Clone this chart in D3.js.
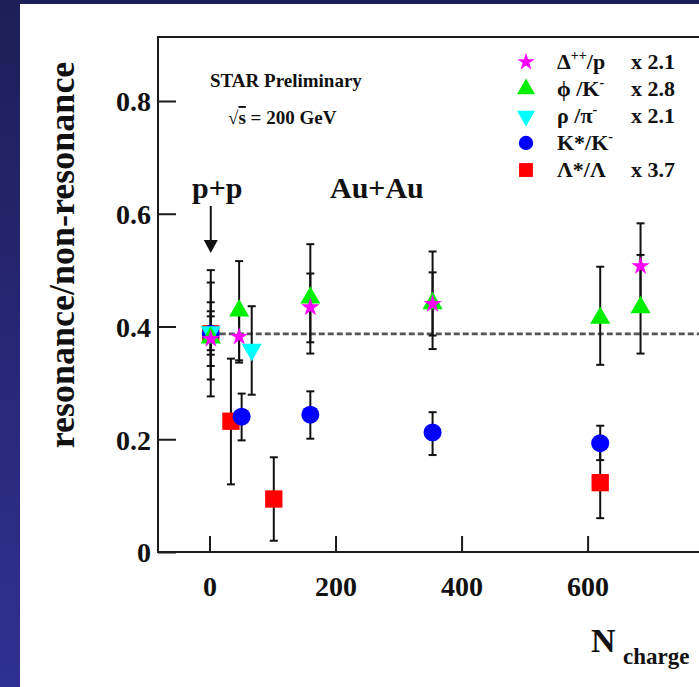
<!DOCTYPE html>
<html><head><meta charset="utf-8">
<script src="https://cdn.jsdelivr.net/npm/d3@7"></script>
<style>body{margin:0;background:#1e1e58;}svg{display:block;}text{font-family:"Liberation Serif","Times New Roman",serif;font-weight:bold;fill:#111;}</style>
</head><body>
<script>
// ---- data ----
const yTicks = [0, 0.2, 0.4, 0.6, 0.8];
const xTicks = [0, 200, 400, 600];
const refLevel = 0.387;

const deltaX  = [2, 47, 160, 354, 684];
const deltaY  = [0.378, 0.382, 0.434, 0.440, 0.507];
const deltaHi = [0.478, 0.427, 0.494, 0.496, 0.583];
const deltaLo = [0.306, 0.336, 0.372, 0.384, 0.430];

const phiX  = [2, 47, 160, 354, 620, 684];
const phiY  = [0.380, 0.428, 0.451, 0.441, 0.415, 0.434];
const phiHi = [0.443, 0.516, 0.546, 0.533, 0.506, 0.527];
const phiLo = [0.330, 0.340, 0.352, 0.360, 0.332, 0.352];

const rhoX  = [2, 67];
const rhoY  = [0.390, 0.359];
const rhoHi = [0.418, 0.436];
const rhoLo = [0.358, 0.279];

const kstarX  = [2, 51, 160, 354, 620];
const kstarY  = [0.387, 0.240, 0.2435, 0.212, 0.193];
const kstarHi = [0.427, 0.281, 0.285, 0.248, 0.224];
const kstarLo = [0.350, 0.198, 0.201, 0.172, 0.163];

const lamX  = [2, 34, 102, 620];
const lamY  = [0.387, 0.232, 0.094, 0.123];
const lamHi = [0.500, 0.343, 0.168, 0.186];
const lamLo = [0.276, 0.120, 0.020, 0.060];

const legendMain  = ["Δ", "ϕ /K", "ρ /π", "K*/K", "Λ*/Λ"];
const legendSup   = ["++", "-", "-", "-", ""];
const legendTail  = ["/p", "", "", "", ""];
const legendScale = ["x 2.1", "x 2.8", "x 2.1", "", "x 3.7"];

// ---- layout ----
const W = 699, H = 687;
const svg = d3.select("body").append("svg").attr("width", W).attr("height", H);
const defs = svg.append("defs");
const lg = defs.append("linearGradient").attr("id","side").attr("x1",0).attr("y1",0).attr("x2",0).attr("y2",1);
lg.append("stop").attr("offset","0%").attr("stop-color","#1e1e58");
lg.append("stop").attr("offset","100%").attr("stop-color","#2f3192");
svg.append("rect").attr("width",W).attr("height",H).attr("fill","#1e1e58");
svg.append("rect").attr("x",0).attr("y",0).attr("width",20).attr("height",H).attr("fill","url(#side)");
svg.append("rect").attr("x",20).attr("y",4).attr("width",W-20).attr("height",H-4).attr("fill","#ffffff");

const x = d3.scaleLinear().domain([0, 600]).range([209.5, 587.6]);
const y = d3.scaleLinear().domain([0, 0.8]).range([552, 101]);
const pLeft = 158, pTop = 37, pBottom = 552, pRight = 760;

const g = svg.append("g");

// frame
g.append("path").attr("d", `M${pRight},${pTop}H${pLeft}V${pBottom}H${pRight}`)
  .attr("fill","none").attr("stroke","#1a1a1a").attr("stroke-width",2);

// axes
const yAxis = d3.axisLeft(y).tickValues(yTicks).tickSize(-18)
  .tickFormat(d => d === 0 ? "0" : d3.format(".1f")(d));
const ya = g.append("g").attr("transform",`translate(${pLeft},0)`).call(yAxis);
ya.select(".domain").remove();
ya.selectAll(".tick line").attr("stroke","#1a1a1a").attr("stroke-width",2);
ya.selectAll(".tick text").attr("font-size",28).attr("x",-7).attr("dy","0.35em")
  .style("font-family","Liberation Serif").style("font-weight","bold").attr("fill","#111");

const xAxis = d3.axisBottom(x).tickValues(xTicks).tickSize(-16);
const xa = g.append("g").attr("transform",`translate(0,${pBottom})`).call(xAxis);
xa.select(".domain").remove();
xa.selectAll(".tick line").attr("stroke","#1a1a1a").attr("stroke-width",2);
xa.selectAll(".tick text").attr("font-size",28).attr("y",24).attr("dy","0.71em")
  .style("font-family","Liberation Serif").style("font-weight","bold").attr("fill","#111");

// reference dashed line
g.append("line").attr("x1",x(2)).attr("x2",pRight).attr("y1",y(refLevel)).attr("y2",y(refLevel))
  .attr("stroke","#555").attr("stroke-width",2.6).attr("stroke-dasharray","6,3");

// error bars
function errBars(xs, ys, hi, lo) {
  const eg = g.append("g").attr("stroke","#111").attr("stroke-width",2);
  xs.forEach((xv, i) => {
    const px = x(xv);
    eg.append("line").attr("x1",px).attr("x2",px).attr("y1",y(hi[i])).attr("y2",y(lo[i]));
    eg.append("line").attr("x1",px-4).attr("x2",px+4).attr("y1",y(hi[i])).attr("y2",y(hi[i]));
    eg.append("line").attr("x1",px-4).attr("x2",px+4).attr("y1",y(lo[i])).attr("y2",y(lo[i]));
  });
}
errBars(lamX, lamY, lamHi, lamLo);
errBars(kstarX, kstarY, kstarHi, kstarLo);
errBars(rhoX, rhoY, rhoHi, rhoLo);
errBars(phiX, phiY, phiHi, phiLo);
errBars(deltaX, deltaY, deltaHi, deltaLo);

const symSquare = d3.symbol().type(d3.symbolSquare).size(300)();
const symCircle = d3.symbol().type(d3.symbolCircle).size(255)();
const symTri    = d3.symbol().type(d3.symbolTriangle).size(175)();
const symStar   = d3.symbol().type(d3.symbolStar).size(105)();

function markers(xs, ys, path, color, rot) {
  g.append("g").selectAll("path").data(xs).join("path")
    .attr("d", path).attr("fill", color)
    .attr("transform", (d, i) => `translate(${x(d)},${y(ys[i])})${rot ? " rotate(180)" : ""}`);
}
markers(lamX, lamY, symSquare, "#ff0000");
markers(kstarX, kstarY, symCircle, "#0000ff");
markers(rhoX, rhoY, symTri, "#00ffff", true);
markers(phiX, phiY, symTri, "#00ee00");
markers(deltaX, deltaY, symStar, "#ff00ff");

// annotations
function txt(str, tx, ty, size, anchor) {
  return svg.append("text").attr("x",tx).attr("y",ty).attr("font-size",size)
    .attr("text-anchor", anchor || "start").text(str);
}
txt("STAR Preliminary", 210, 87, 19);
const sq = svg.append("text").attr("x",228).attr("y",124).attr("font-size",19);
sq.append("tspan").text("√");
sq.append("tspan").style("text-decoration","overline").text("s");
sq.append("tspan").text(" = 200 GeV");
txt("p+p", 192, 198, 30);
txt("Au+Au", 330, 198, 30);
// arrow
svg.append("line").attr("x1",x(2)).attr("x2",x(2)).attr("y1",206).attr("y2",243)
  .attr("stroke","#111").attr("stroke-width",2);
svg.append("path").attr("d",`M${x(2)-7},${240}L${x(2)+7},${240}L${x(2)},${253}Z`).attr("fill","#111");

// legend
const legendColors = ["#ff00ff", "#00ee00", "#00ffff", "#0000ff", "#ff0000"];
const legendSyms = [symStar, symTri, symTri, symCircle, symSquare];
const legendRot = [false, false, true, false, false];
const legendSize = [0.95, 0.9, 0.9, 0.8, 0.8];
legendMain.forEach((m, i) => {
  const cy = 62 + i * 27;
  svg.append("path").attr("d", legendSyms[i]).attr("fill", legendColors[i])
    .attr("transform", `translate(526,${cy}) scale(${legendSize[i]})${legendRot[i] ? " rotate(180)" : ""}`);
  const t = svg.append("text").attr("x",557).attr("y",cy+7).attr("font-size",22);
  t.append("tspan").text(m);
  if (legendSup[i]) t.append("tspan").attr("dy",-9).attr("font-size",14).text(legendSup[i]);
  if (legendTail[i]) t.append("tspan").attr("dy",9).text(legendTail[i]);
  if (legendScale[i]) txt(legendScale[i], 631, cy+7, 22);
});

// axis titles
svg.append("text").attr("transform","translate(74,255) rotate(-90)").attr("text-anchor","middle")
  .attr("font-size",36).text("resonance/non-resonance");
txt("N", 591, 652, 34);
txt("charge", 623, 664, 23);
</script>
</body></html>
